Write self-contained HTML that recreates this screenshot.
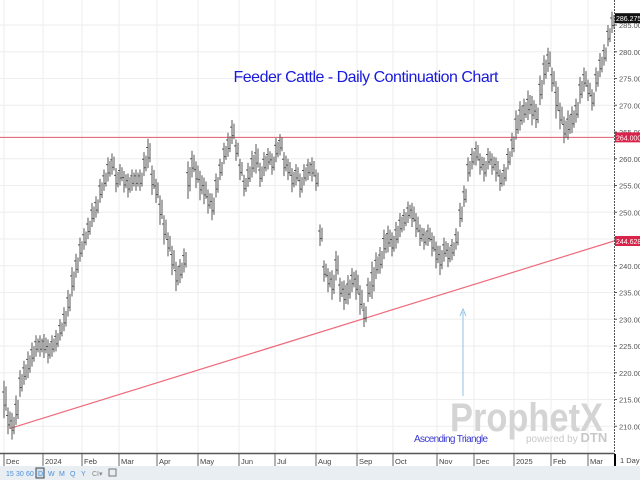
<!DOCTYPE html>
<html><head><meta charset="utf-8"><style>
html,body{margin:0;padding:0;background:#fff;}
svg{display:block;font-family:"Liberation Sans",sans-serif;}
</style></head><body>
<svg id="chart" width="640" height="480">
<rect x="0" y="0" width="640" height="480" fill="#fff"/>
<g id="grid"></g>
<g id="refs"></g>
<g id="bars"></g>
<text x="366" y="82" text-anchor="middle" font-size="16" fill="#1a1adc" textLength="265">Feeder Cattle - Daily Continuation Chart</text>
<text x="451" y="442" text-anchor="middle" font-size="10" fill="#3a3ad0" textLength="74">Ascending Triangle</text>
<line x1="463" y1="396" x2="463" y2="312" stroke="#8fc3e6" stroke-width="1"/>
<path d="M460,316 L463,309 L466,316" fill="none" stroke="#8fc3e6"/>
<text x="450" y="431" font-size="40" font-weight="bold" fill="#d4d4d4" textLength="153" lengthAdjust="spacingAndGlyphs">ProphetX</text>
<text x="526" y="442" font-size="10" fill="#c8c8c8">powered by <tspan font-weight="bold" font-size="13">DTN</tspan></text>
<g id="yaxis"></g>
<g id="xaxis"></g>
<rect x="0" y="466" width="640" height="14" fill="#e9eef3"/>
<g font-size="7" fill="#4a90d9">
<text x="6" y="476">15</text>
<text x="16" y="476">30</text>
<text x="26" y="476">60</text>
<rect x="36" y="468" width="8" height="10" fill="#cfe0f0" stroke="#444"/>
<text x="38" y="476">D</text>
<text x="48" y="476">W</text>
<text x="59" y="476">M</text>
<text x="70" y="476">Q</text>
<text x="81" y="476">Y</text>
<text x="92" y="476" fill="#888">CI▾</text>
<rect x="109" y="469" width="7" height="7" fill="none" stroke="#777"/>
</g>
</svg>
<script>
const mids=[215,211,210,213,218,220,221.5,223.4,225,225,225,224,225,226,228,230,233,237,240,243,245,247,249.5,251,254,256,258,259,256,257,255.7,255,256,256,256,259,261,256,254,250.4,246.7,244,241,238,239,241,
256,259,257,255,254,252,251,255,258,261,262.6,265,261.6,258,255,257,259,260,257,259,260,259,261.6,262.6,259,258,256,257,255,257,258,258,256,245.7,239,237.3,236.4,240,235.5,234.5,235.5,237.3,236.4,233.6,230.8,235.5,237.3,240,241,244,245,244,245.7,247.6,248.6,250,249.5,247.6,245.7,245,245.7,244,242,241,243,242,243,245,249.5,253,258,260,261,259,258,260,259,258,256,257,260,262.6,266.3,268,269,270,269,268,272.8,276.6,278.5,274.8,271,268,265.4,266.3,267.3,269,272.8,274.8,272.8,271,274.8,277.5,279.4,283,285.5];
const ranges=[7,5,5,5.5,5,4.5,5,4.5,4,4,4.5,4.5,4,4,4,4.5,5,5.5,4.5,4.5,4,4,4.5,4,4.5,4,4.5,4,4.5,4,4,4.5,4,4,4,4.5,5.5,5.5,4.5,5.5,5.5,4.5,5.5,5.5,4.5,4.5];
const yTicks=[210,215,220,225,230,235,240,245,250,255,260,265,270,275,280,285];
const monthLabels=["Dec","2024","Feb","Mar","Apr","May","Jun","Jul","Aug","Sep","Oct","Nov","Dec","2025","Feb","Mar"];
const monthBarIdx=[0.5,10.25,20,29.25,38.75,49,59.25,68.25,78.5,88.75,97.75,108.75,118,128,137.25,146.5];
const hLevel=264.0, trendStart=209.6, trendEnd=244.628, lastPrice=286.275;
const NS="http://www.w3.org/2000/svg";
const y=v=>25+(285-v)*5.35;
const x=i=>4+i*4;
const PR=614;
function mk(p,t,a){const e=document.createElementNS(NS,t);for(const k in a)e.setAttribute(k,a[k]);p.appendChild(e);return e;}
const grid=document.getElementById('grid'),yax=document.getElementById('yaxis'),xax=document.getElementById('xaxis'),bars=document.getElementById('bars'),refs=document.getElementById('refs');
yTicks.forEach(v=>{
 const l=mk(grid,'line',{x1:0,x2:PR,y1:y(v),y2:y(v),stroke:'#eeeeee'});
 
 
 const tk=mk(yax,'line',{x1:PR,x2:PR+3,y1:y(v),y2:y(v),stroke:'#555'});
 
 
 const t=mk(yax,'text',{x:PR+5,y:y(v)+3,'font-size':7.5,fill:'#555'});
 t.textContent=v.toFixed(3);
 
 
});
const ax=mk(yax,'line',{x1:PR+0.5,x2:PR+0.5,y1:0,y2:455,stroke:'#555','stroke-dasharray':'2,1'});


monthBarIdx.forEach((bi,k)=>{
 const gx=x(bi)-2;
 const g=mk(grid,'line',{x1:gx,x2:gx,y1:0,y2:453,stroke:'#eeeeee'});
 
 
 const tk=mk(xax,'line',{x1:gx,x2:gx,y1:454,y2:466,stroke:'#666'});
 
 
 const t=mk(xax,'text',{x:gx+2,y:464,'font-size':7.5,fill:'#444'});
 t.textContent=monthLabels[k];
 
 
});
const xl=mk(xax,'line',{x1:0,x2:PR,y1:453.5,y2:453.5,stroke:'#555','stroke-width':1.5});


const pb=mk(xax,'rect',{x:PR,y:454,width:2,height:12,fill:'#000'});


const per=mk(xax,'text',{x:620,y:463,'font-size':7.5,fill:'#444'});
per.textContent='1 Day';


mids.forEach((m,i)=>{
 const r=ranges[i%ranges.length];
 const X=x(i);
 const b=mk(bars,'path',{d:`M${X},${y(m+r/2)}V${y(m-r/2)}M${X-2},${y(m+r*0.2)}H${X}M${X},${y(m-r*0.15)}H${X+2}M${X+2},${y(m+r*0.35)}V${y(m-r*0.3)}`,stroke:'#555','stroke-width':1,fill:'none'});
 
 
});
const hl=mk(refs,'line',{x1:0,x2:PR,y1:y(hLevel),y2:y(hLevel),stroke:'#e05a6a','stroke-width':1});


const tl=mk(refs,'line',{x1:10,x2:PR,y1:y(trendStart),y2:y(trendEnd),stroke:'#ef6a7a','stroke-width':1.2});


function tag(v,fill,name){
 const r=mk(yax,'rect',{x:PR+1,y:y(v)-5,width:26,height:10,fill:fill});
 
 
 const t=mk(yax,'text',{x:PR+2,y:y(v)+3,'font-size':7,fill:'#fff'});
 t.textContent=v.toFixed(3);
 
 
}
tag(hLevel,'#d9234a','resistance-label');
tag(trendEnd,'#d9234a','trend-label');
tag(lastPrice,'#111','last-price-label');
</script>
</body></html>
